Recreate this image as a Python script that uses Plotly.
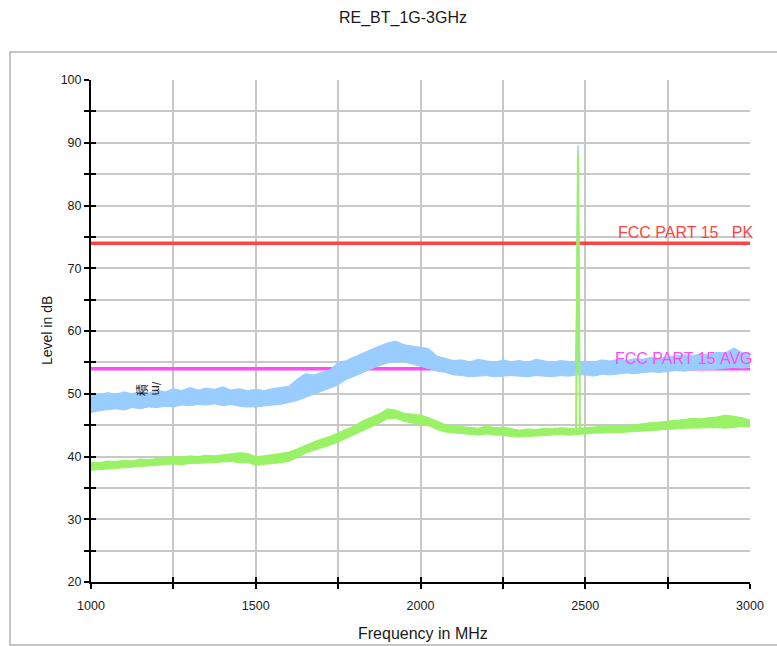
import plotly.graph_objects as go

# ---------------- data ----------------
freq = list(range(1000, 3001, 25))  # MHz

pk_upper = [50.0, 49.8, 50.2, 49.9, 50.3, 50.0, 50.4, 50.1,
            50.6, 50.3, 50.8, 50.5, 51.0, 50.6, 50.9, 50.7,
            51.1, 50.6, 50.8, 50.5, 50.7, 50.5, 50.8, 51.0,
            51.2, 52.3, 53.2, 53.0, 53.4, 53.8, 55.0, 55.3,
            55.9, 56.5, 57.0, 57.6, 58.1, 58.4, 57.8, 57.6,
            57.4, 57.2, 56.0, 55.6, 55.3, 55.4, 55.1, 55.5,
            55.2, 55.0, 55.4, 55.1, 55.3, 55.0, 55.5, 55.2,
            55.0, 55.3, 55.1, 55.0, 55.2, 55.0, 55.4, 55.2,
            55.5, 55.3, 55.6, 55.5, 55.8, 55.6, 55.9, 56.0,
            56.2, 56.1, 56.3, 56.2, 56.6, 56.5, 57.3, 56.6,
            56.4]
pk_lower = [47.0, 47.3, 47.5, 47.6, 47.4, 47.8, 47.6, 47.9,
            47.8, 48.0, 47.9, 48.2, 48.1, 48.3, 48.2, 48.4,
            48.1, 48.3, 48.0, 47.9, 47.9, 48.0, 48.2, 48.3,
            48.6, 48.9, 49.4, 49.8, 50.4, 50.9, 51.4, 52.3,
            52.8, 53.4, 54.0, 54.5, 54.9, 55.1, 55.1, 54.8,
            54.4, 54.0, 53.6, 53.4, 53.0, 52.9, 52.7, 52.8,
            52.9, 52.7, 52.8, 52.9, 52.8, 52.7, 52.9, 52.8,
            52.7, 52.9, 52.8, 53.0, 53.0, 52.8, 53.1, 53.0,
            53.2, 53.3, 53.2, 53.4, 53.5, 53.4, 53.6, 53.7,
            53.6, 53.8, 53.9, 53.8, 54.0, 54.1, 54.2, 54.1,
            54.2]
av_upper = [39.1, 39.0, 39.3, 39.2, 39.4, 39.3, 39.6, 39.5,
            39.7, 39.8, 40.0, 39.9, 40.1, 40.0, 40.2, 40.1,
            40.3, 40.4, 40.6, 40.5, 40.0, 40.1, 40.3, 40.5,
            40.7, 41.2, 41.8, 42.3, 42.8, 43.2, 43.8, 44.3,
            44.9, 45.7, 46.3, 46.8, 47.6, 47.4, 46.9, 46.8,
            46.6, 46.2, 45.6, 45.1, 44.9, 44.8, 44.6, 44.5,
            44.9, 44.6, 44.7, 44.4, 44.2, 44.4, 44.3, 44.5,
            44.4, 44.6, 44.5, 44.4, 44.6, 44.7, 44.8, 44.9,
            45.0, 44.9, 45.1, 45.2, 45.4, 45.5, 45.6, 45.7,
            45.9, 46.1, 46.0, 46.2, 46.3, 46.6, 46.4, 46.2,
            45.8]
av_lower = [37.8, 38.0, 38.1, 38.2, 38.3, 38.4, 38.5, 38.5,
            38.6, 38.7, 38.8, 38.7, 38.9, 38.9, 39.0, 39.0,
            39.1, 39.2, 39.0, 39.0, 38.6, 38.7, 38.9, 39.0,
            39.2, 39.8, 40.5, 41.0, 41.4, 41.8, 42.3, 42.9,
            43.4, 44.1, 44.7, 45.3, 46.0, 46.1, 45.6, 45.4,
            45.1, 44.9, 44.3, 43.9, 43.8, 43.6, 43.5, 43.4,
            43.6, 43.4, 43.4, 43.2, 43.1, 43.2, 43.3, 43.3,
            43.4, 43.5, 43.4, 43.5, 43.6, 43.7, 43.8, 43.8,
            43.8, 43.9, 44.0, 44.1, 44.1, 44.2, 44.3, 44.4,
            44.5, 44.5, 44.6, 44.6, 44.6, 44.5, 44.7, 44.8,
            44.7]

spike_pk_freq = [2471, 2475, 2478, 2480, 2482]
spike_pk_level = [54.0, 66.0, 89.6, 58.0, 54.0]
spike_av_freq = [2472, 2478, 2484]
spike_av_level = [44.0, 88.4, 44.0]

limit_pk = 74.0
limit_avg = 54.0
limit_pk_label = "FCC PART 15\u00a0\u00a0\u00a0PK"
limit_avg_label = "FCC PART 15\u00a0AVG"

x_range = [1000, 3000]
y_range = [20, 100]
x_ticks = [1000, 1500, 2000, 2500, 3000]
y_ticks = [20, 30, 40, 50, 60, 70, 80, 90, 100]

BLUE = "#99CCFF"
GREEN = "#99F266"
RED = "#FF4444"
MAGENTA = "#FF4DF5"
FONT = "Liberation Sans, Arial, sans-serif"

fig = go.Figure()

# limit lines
fig.add_trace(go.Scatter(x=x_range, y=[limit_pk, limit_pk], mode="lines",
                         line=dict(color=RED, width=3.5), hoverinfo="skip"))
fig.add_trace(go.Scatter(x=x_range, y=[limit_avg, limit_avg], mode="lines",
                         line=dict(color=MAGENTA, width=3.5), hoverinfo="skip"))

# peak trace band
fig.add_trace(go.Scatter(x=freq + freq[::-1], y=pk_upper + pk_lower[::-1],
                         fill="toself", fillcolor=BLUE, mode="lines",
                         line=dict(color=BLUE, width=1), hoverinfo="skip"))
fig.add_trace(go.Scatter(x=spike_pk_freq, y=spike_pk_level, mode="lines",
                         fill="toself", fillcolor=BLUE,
                         line=dict(color=BLUE, width=1.5), hoverinfo="skip"))
# average trace band
fig.add_trace(go.Scatter(x=freq + freq[::-1], y=av_upper + av_lower[::-1],
                         fill="toself", fillcolor=GREEN, mode="lines",
                         line=dict(color=GREEN, width=1), hoverinfo="skip"))
fig.add_trace(go.Scatter(x=spike_av_freq, y=spike_av_level, mode="lines",
                         line=dict(color=GREEN, width=2), hoverinfo="skip"))

# dummy trace for the inner-tick overlay axes
fig.add_trace(go.Scatter(x=[x_range[0]], y=[y_range[0]], mode="markers",
                         marker=dict(opacity=0), xaxis="x2", yaxis="y2",
                         hoverinfo="skip"))

grid_col = "#c8c8c8"
axis_common = dict(showline=True, linecolor="black", linewidth=2,
                   ticks="outside", ticklen=5, tickwidth=2, tickcolor="black",
                   gridcolor=grid_col, gridwidth=2, zeroline=False,
                   tickfont=dict(family=FONT, size=12.5, color="#1a1a1a"))

fig.update_layout(
    width=777, height=646,
    margin=dict(l=91, r=27, t=80, b=64),
    paper_bgcolor="white", plot_bgcolor="white",
    showlegend=False,
    title=dict(text="RE_BT_1G-3GHz", x=403 / 777, xanchor="center",
               y=1 - 17 / 646, yanchor="middle",
               font=dict(family=FONT, size=16, color="#1a1a1a")),
    xaxis=dict(range=x_range, tickvals=x_ticks, ticklabelstandoff=6,
               minor=dict(dtick=250, tick0=1000, showgrid=True, gridcolor=grid_col,
                          gridwidth=2, ticks="outside", ticklen=5, tickwidth=2,
                          tickcolor="black"),
               **axis_common),
    yaxis=dict(range=y_range, tickvals=y_ticks,
               minor=dict(dtick=5, tick0=20, showgrid=True, gridcolor=grid_col,
                          gridwidth=2, ticks="outside", ticklen=5, tickwidth=2,
                          tickcolor="black"),
               **axis_common),
    xaxis2=dict(range=x_range, overlaying="x", anchor="y2", side="bottom",
                showgrid=False, showticklabels=False, zeroline=False,
                showline=False, ticks="inside", ticklen=5, tickwidth=2,
                tickcolor="black", tickvals=x_ticks,
                minor=dict(dtick=250, tick0=1000, ticks="inside", ticklen=5,
                           tickwidth=2, tickcolor="black", showgrid=False)),
    yaxis2=dict(range=y_range, overlaying="y", anchor="x2", side="left",
                showgrid=False, showticklabels=False, zeroline=False,
                showline=False, ticks="inside", ticklen=5, tickwidth=2,
                tickcolor="black", tickvals=y_ticks,
                minor=dict(dtick=5, tick0=20, ticks="inside", ticklen=5,
                           tickwidth=2, tickcolor="black", showgrid=False)),
)

# outer frame
fig.add_shape(type="rect", xref="paper", yref="paper",
              x0=(10 - 91) / 659, x1=(790 - 91) / 659,
              y0=(582 - 645) / 502, y1=(582 - 52) / 502,
              line=dict(color="#b4b4b4", width=1.5), layer="below")

# annotations
fig.add_annotation(text=limit_pk_label, xref="paper", x=(755 - 91) / 659, xanchor="right",
                   yref="y", y=75.62, yanchor="middle", showarrow=False,
                   font=dict(family=FONT, size=16, color=RED))
fig.add_annotation(text=limit_avg_label, xref="paper", x=(755 - 91) / 659, xanchor="right",
                   yref="y", y=55.62, yanchor="middle", showarrow=False,
                   font=dict(family=FONT, size=16, color=MAGENTA))
fig.add_annotation(text="Level in dB", xref="paper", x=(47 - 91) / 659, xanchor="center",
                   yref="paper", y=0.5, yanchor="middle", textangle=-90, showarrow=False,
                   font=dict(family=FONT, size=14, color="#1a1a1a"))
fig.add_annotation(text="Frequency in MHz", xref="paper", x=(423 - 91) / 659, xanchor="center",
                   yref="paper", y=(582 - 633) / 502, yanchor="middle", showarrow=False,
                   font=dict(family=FONT, size=16, color="#1a1a1a"))
fig.add_annotation(text="積", x=1155, y=50.6, xref="x", yref="y", textangle=-90,
                   showarrow=False, font=dict(family="Noto Sans CJK SC", size=12, color="#222"))
fig.add_annotation(text="/m", x=1197, y=50.8, xref="x", yref="y", textangle=90,
                   showarrow=False, font=dict(family=FONT, size=12, color="#222"))

fig.write_html("out.html",
               config={"displayModeBar": False},
               post_script="document.body.style.margin='0';document.body.style.padding='0';"
                           "document.documentElement.style.overflow='hidden';")
